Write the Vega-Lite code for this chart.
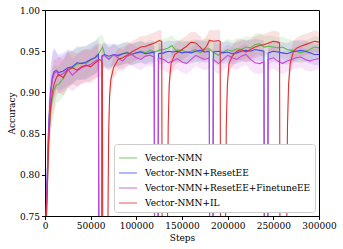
{
"$schema":"https://vega.github.io/schema/vega-lite/v6.json",
"width":274,"height":206,"autosize":"none",
"padding":{"left":45,"top":10,"right":24,"bottom":33},
"config":{"font":"DejaVu Serif","view":{"stroke":"#000","strokeWidth":1},
"axis":{"grid":false,"domainColor":"#000","tickColor":"#000","labelColor":"#000","titleColor":"#000","labelFont":"DejaVu Serif","titleFont":"DejaVu Serif","labelFontSize":9,"titleFontSize":9,"titleFontWeight":"normal","tickSize":3.5,"labelPadding":2,"labelOverlap":false,"labelFlush":false},
"legend":{"title":null,"orient":"bottom-right","offset":4,"symbolType":"stroke","symbolSize":324,"symbolStrokeWidth":1.6,"symbolOpacity":0.5,"labelFont":"DejaVu Serif","labelFontSize":9,"labelColor":"#000","labelLimit":400,"fillColor":"white","strokeColor":"#cccccc","cornerRadius":3,"padding":4,"rowPadding":-7,"labelOffset":7}},
"datasets":{"d":[
{"s":"Vector-NMN","x":0,"y":0.70,"lo":0.67,"hi":0.73},
{"s":"Vector-NMN","x":2000,"y":0.77,"lo":0.74,"hi":0.80},
{"s":"Vector-NMN","x":4000,"y":0.84,"lo":0.81,"hi":0.87},
{"s":"Vector-NMN","x":6000,"y":0.875,"lo":0.845,"hi":0.905},
{"s":"Vector-NMN","x":8000,"y":0.893,"lo":0.863,"hi":0.923},
{"s":"Vector-NMN","x":10000,"y":0.903,"lo":0.873,"hi":0.933},
{"s":"Vector-NMN","x":12500,"y":0.909,"lo":0.887,"hi":0.931},
{"s":"Vector-NMN","x":15000,"y":0.91,"lo":0.888,"hi":0.932},
{"s":"Vector-NMN","x":20000,"y":0.917,"lo":0.895,"hi":0.939},
{"s":"Vector-NMN","x":25000,"y":0.926,"lo":0.904,"hi":0.948},
{"s":"Vector-NMN","x":30000,"y":0.93,"lo":0.91,"hi":0.95},
{"s":"Vector-NMN","x":35000,"y":0.934,"lo":0.914,"hi":0.954},
{"s":"Vector-NMN","x":40000,"y":0.936,"lo":0.916,"hi":0.956},
{"s":"Vector-NMN","x":45000,"y":0.935,"lo":0.915,"hi":0.955},
{"s":"Vector-NMN","x":50000,"y":0.939,"lo":0.919,"hi":0.959},
{"s":"Vector-NMN","x":55000,"y":0.943,"lo":0.923,"hi":0.963},
{"s":"Vector-NMN","x":60000,"y":0.949,"lo":0.929,"hi":0.969},
{"s":"Vector-NMN","x":63000,"y":0.955,"lo":0.94,"hi":0.97},
{"s":"Vector-NMN","x":66000,"y":0.944,"lo":0.929,"hi":0.959},
{"s":"Vector-NMN","x":70000,"y":0.941,"lo":0.927,"hi":0.955},
{"s":"Vector-NMN","x":75000,"y":0.945,"lo":0.932,"hi":0.958},
{"s":"Vector-NMN","x":80000,"y":0.944,"lo":0.931,"hi":0.957},
{"s":"Vector-NMN","x":85000,"y":0.947,"lo":0.934,"hi":0.96},
{"s":"Vector-NMN","x":90000,"y":0.949,"lo":0.936,"hi":0.962},
{"s":"Vector-NMN","x":95000,"y":0.946,"lo":0.933,"hi":0.959},
{"s":"Vector-NMN","x":100000,"y":0.948,"lo":0.935,"hi":0.961},
{"s":"Vector-NMN","x":105000,"y":0.95,"lo":0.937,"hi":0.963},
{"s":"Vector-NMN","x":110000,"y":0.948,"lo":0.935,"hi":0.961},
{"s":"Vector-NMN","x":115000,"y":0.951,"lo":0.938,"hi":0.964},
{"s":"Vector-NMN","x":120000,"y":0.949,"lo":0.936,"hi":0.962},
{"s":"Vector-NMN","x":125000,"y":0.951,"lo":0.938,"hi":0.964},
{"s":"Vector-NMN","x":130000,"y":0.952,"lo":0.939,"hi":0.965},
{"s":"Vector-NMN","x":135000,"y":0.954,"lo":0.941,"hi":0.967},
{"s":"Vector-NMN","x":139000,"y":0.957,"lo":0.944,"hi":0.97},
{"s":"Vector-NMN","x":143000,"y":0.951,"lo":0.938,"hi":0.964},
{"s":"Vector-NMN","x":150000,"y":0.951,"lo":0.938,"hi":0.964},
{"s":"Vector-NMN","x":155000,"y":0.949,"lo":0.936,"hi":0.962},
{"s":"Vector-NMN","x":160000,"y":0.95,"lo":0.937,"hi":0.963},
{"s":"Vector-NMN","x":165000,"y":0.952,"lo":0.939,"hi":0.965},
{"s":"Vector-NMN","x":170000,"y":0.948,"lo":0.935,"hi":0.961},
{"s":"Vector-NMN","x":175000,"y":0.952,"lo":0.939,"hi":0.965},
{"s":"Vector-NMN","x":180000,"y":0.953,"lo":0.94,"hi":0.966},
{"s":"Vector-NMN","x":185000,"y":0.948,"lo":0.935,"hi":0.961},
{"s":"Vector-NMN","x":190000,"y":0.945,"lo":0.932,"hi":0.958},
{"s":"Vector-NMN","x":195000,"y":0.949,"lo":0.936,"hi":0.962},
{"s":"Vector-NMN","x":200000,"y":0.952,"lo":0.939,"hi":0.965},
{"s":"Vector-NMN","x":205000,"y":0.95,"lo":0.937,"hi":0.963},
{"s":"Vector-NMN","x":210000,"y":0.953,"lo":0.94,"hi":0.966},
{"s":"Vector-NMN","x":215000,"y":0.952,"lo":0.939,"hi":0.965},
{"s":"Vector-NMN","x":220000,"y":0.955,"lo":0.942,"hi":0.968},
{"s":"Vector-NMN","x":225000,"y":0.954,"lo":0.941,"hi":0.967},
{"s":"Vector-NMN","x":230000,"y":0.958,"lo":0.945,"hi":0.971},
{"s":"Vector-NMN","x":235000,"y":0.959,"lo":0.946,"hi":0.972},
{"s":"Vector-NMN","x":240000,"y":0.955,"lo":0.942,"hi":0.968},
{"s":"Vector-NMN","x":245000,"y":0.956,"lo":0.943,"hi":0.969},
{"s":"Vector-NMN","x":250000,"y":0.955,"lo":0.942,"hi":0.968},
{"s":"Vector-NMN","x":255000,"y":0.954,"lo":0.941,"hi":0.967},
{"s":"Vector-NMN","x":260000,"y":0.955,"lo":0.942,"hi":0.968},
{"s":"Vector-NMN","x":265000,"y":0.952,"lo":0.939,"hi":0.965},
{"s":"Vector-NMN","x":270000,"y":0.951,"lo":0.938,"hi":0.964},
{"s":"Vector-NMN","x":275000,"y":0.95,"lo":0.937,"hi":0.963},
{"s":"Vector-NMN","x":280000,"y":0.948,"lo":0.935,"hi":0.961},
{"s":"Vector-NMN","x":285000,"y":0.95,"lo":0.937,"hi":0.963},
{"s":"Vector-NMN","x":290000,"y":0.952,"lo":0.939,"hi":0.965},
{"s":"Vector-NMN","x":295000,"y":0.955,"lo":0.942,"hi":0.968},
{"s":"Vector-NMN","x":300000,"y":0.954,"lo":0.941,"hi":0.967},
{"s":"Vector-NMN+ResetEE","x":0,"y":0.70,"lo":0.67,"hi":0.73},
{"s":"Vector-NMN+ResetEE","x":2000,"y":0.78,"lo":0.75,"hi":0.81},
{"s":"Vector-NMN+ResetEE","x":4000,"y":0.86,"lo":0.83,"hi":0.89},
{"s":"Vector-NMN+ResetEE","x":6000,"y":0.90,"lo":0.87,"hi":0.93},
{"s":"Vector-NMN+ResetEE","x":8000,"y":0.918,"lo":0.888,"hi":0.948},
{"s":"Vector-NMN+ResetEE","x":10000,"y":0.925,"lo":0.895,"hi":0.955},
{"s":"Vector-NMN+ResetEE","x":12500,"y":0.927,"lo":0.905,"hi":0.949},
{"s":"Vector-NMN+ResetEE","x":15000,"y":0.924,"lo":0.902,"hi":0.946},
{"s":"Vector-NMN+ResetEE","x":20000,"y":0.926,"lo":0.904,"hi":0.948},
{"s":"Vector-NMN+ResetEE","x":25000,"y":0.93,"lo":0.908,"hi":0.952},
{"s":"Vector-NMN+ResetEE","x":30000,"y":0.931,"lo":0.911,"hi":0.951},
{"s":"Vector-NMN+ResetEE","x":35000,"y":0.936,"lo":0.916,"hi":0.956},
{"s":"Vector-NMN+ResetEE","x":40000,"y":0.935,"lo":0.915,"hi":0.955},
{"s":"Vector-NMN+ResetEE","x":45000,"y":0.937,"lo":0.917,"hi":0.957},
{"s":"Vector-NMN+ResetEE","x":50000,"y":0.94,"lo":0.92,"hi":0.96},
{"s":"Vector-NMN+ResetEE","x":55000,"y":0.942,"lo":0.922,"hi":0.962},
{"s":"Vector-NMN+ResetEE","x":58500,"y":0.946,"lo":0.926,"hi":0.966},
{"s":"Vector-NMN+ResetEE","x":59300,"y":0.6,"lo":0.58,"hi":0.62},
{"s":"Vector-NMN+ResetEE","x":61800,"y":0.6,"lo":0.58,"hi":0.62},
{"s":"Vector-NMN+ResetEE","x":62300,"y":0.944,"lo":0.929,"hi":0.959},
{"s":"Vector-NMN+ResetEE","x":65000,"y":0.946,"lo":0.931,"hi":0.961},
{"s":"Vector-NMN+ResetEE","x":70000,"y":0.944,"lo":0.93,"hi":0.958},
{"s":"Vector-NMN+ResetEE","x":75000,"y":0.946,"lo":0.933,"hi":0.959},
{"s":"Vector-NMN+ResetEE","x":80000,"y":0.945,"lo":0.932,"hi":0.958},
{"s":"Vector-NMN+ResetEE","x":85000,"y":0.947,"lo":0.934,"hi":0.96},
{"s":"Vector-NMN+ResetEE","x":90000,"y":0.948,"lo":0.935,"hi":0.961},
{"s":"Vector-NMN+ResetEE","x":95000,"y":0.946,"lo":0.933,"hi":0.959},
{"s":"Vector-NMN+ResetEE","x":100000,"y":0.948,"lo":0.935,"hi":0.961},
{"s":"Vector-NMN+ResetEE","x":105000,"y":0.949,"lo":0.936,"hi":0.962},
{"s":"Vector-NMN+ResetEE","x":110000,"y":0.947,"lo":0.934,"hi":0.96},
{"s":"Vector-NMN+ResetEE","x":115000,"y":0.948,"lo":0.935,"hi":0.961},
{"s":"Vector-NMN+ResetEE","x":119500,"y":0.949,"lo":0.936,"hi":0.962},
{"s":"Vector-NMN+ResetEE","x":120300,"y":0.6,"lo":0.58,"hi":0.62},
{"s":"Vector-NMN+ResetEE","x":123700,"y":0.6,"lo":0.58,"hi":0.62},
{"s":"Vector-NMN+ResetEE","x":124200,"y":0.947,"lo":0.934,"hi":0.96},
{"s":"Vector-NMN+ResetEE","x":130000,"y":0.948,"lo":0.935,"hi":0.961},
{"s":"Vector-NMN+ResetEE","x":135000,"y":0.95,"lo":0.937,"hi":0.963},
{"s":"Vector-NMN+ResetEE","x":140000,"y":0.949,"lo":0.936,"hi":0.962},
{"s":"Vector-NMN+ResetEE","x":145000,"y":0.95,"lo":0.937,"hi":0.963},
{"s":"Vector-NMN+ResetEE","x":150000,"y":0.948,"lo":0.935,"hi":0.961},
{"s":"Vector-NMN+ResetEE","x":155000,"y":0.949,"lo":0.936,"hi":0.962},
{"s":"Vector-NMN+ResetEE","x":160000,"y":0.948,"lo":0.935,"hi":0.961},
{"s":"Vector-NMN+ResetEE","x":165000,"y":0.95,"lo":0.937,"hi":0.963},
{"s":"Vector-NMN+ResetEE","x":170000,"y":0.951,"lo":0.938,"hi":0.964},
{"s":"Vector-NMN+ResetEE","x":175000,"y":0.949,"lo":0.936,"hi":0.962},
{"s":"Vector-NMN+ResetEE","x":179800,"y":0.95,"lo":0.937,"hi":0.963},
{"s":"Vector-NMN+ResetEE","x":180600,"y":0.6,"lo":0.58,"hi":0.62},
{"s":"Vector-NMN+ResetEE","x":183800,"y":0.6,"lo":0.58,"hi":0.62},
{"s":"Vector-NMN+ResetEE","x":184300,"y":0.949,"lo":0.936,"hi":0.962},
{"s":"Vector-NMN+ResetEE","x":190000,"y":0.95,"lo":0.937,"hi":0.963},
{"s":"Vector-NMN+ResetEE","x":195000,"y":0.948,"lo":0.935,"hi":0.961},
{"s":"Vector-NMN+ResetEE","x":200000,"y":0.949,"lo":0.936,"hi":0.962},
{"s":"Vector-NMN+ResetEE","x":205000,"y":0.947,"lo":0.934,"hi":0.96},
{"s":"Vector-NMN+ResetEE","x":210000,"y":0.948,"lo":0.935,"hi":0.961},
{"s":"Vector-NMN+ResetEE","x":215000,"y":0.95,"lo":0.937,"hi":0.963},
{"s":"Vector-NMN+ResetEE","x":220000,"y":0.951,"lo":0.938,"hi":0.964},
{"s":"Vector-NMN+ResetEE","x":225000,"y":0.95,"lo":0.937,"hi":0.963},
{"s":"Vector-NMN+ResetEE","x":230000,"y":0.952,"lo":0.939,"hi":0.965},
{"s":"Vector-NMN+ResetEE","x":235000,"y":0.951,"lo":0.938,"hi":0.964},
{"s":"Vector-NMN+ResetEE","x":239700,"y":0.95,"lo":0.937,"hi":0.963},
{"s":"Vector-NMN+ResetEE","x":240500,"y":0.6,"lo":0.58,"hi":0.62},
{"s":"Vector-NMN+ResetEE","x":243800,"y":0.6,"lo":0.58,"hi":0.62},
{"s":"Vector-NMN+ResetEE","x":244300,"y":0.948,"lo":0.935,"hi":0.961},
{"s":"Vector-NMN+ResetEE","x":250000,"y":0.95,"lo":0.937,"hi":0.963},
{"s":"Vector-NMN+ResetEE","x":255000,"y":0.949,"lo":0.936,"hi":0.962},
{"s":"Vector-NMN+ResetEE","x":260000,"y":0.948,"lo":0.935,"hi":0.961},
{"s":"Vector-NMN+ResetEE","x":265000,"y":0.947,"lo":0.934,"hi":0.96},
{"s":"Vector-NMN+ResetEE","x":270000,"y":0.949,"lo":0.936,"hi":0.962},
{"s":"Vector-NMN+ResetEE","x":275000,"y":0.95,"lo":0.937,"hi":0.963},
{"s":"Vector-NMN+ResetEE","x":280000,"y":0.951,"lo":0.938,"hi":0.964},
{"s":"Vector-NMN+ResetEE","x":285000,"y":0.95,"lo":0.937,"hi":0.963},
{"s":"Vector-NMN+ResetEE","x":290000,"y":0.948,"lo":0.935,"hi":0.961},
{"s":"Vector-NMN+ResetEE","x":295000,"y":0.946,"lo":0.933,"hi":0.959},
{"s":"Vector-NMN+ResetEE","x":300000,"y":0.946,"lo":0.933,"hi":0.959},
{"s":"Vector-NMN+ResetEE+FinetuneEE","x":0,"y":0.70,"lo":0.67,"hi":0.73},
{"s":"Vector-NMN+ResetEE+FinetuneEE","x":2000,"y":0.78,"lo":0.75,"hi":0.81},
{"s":"Vector-NMN+ResetEE+FinetuneEE","x":4000,"y":0.855,"lo":0.825,"hi":0.885},
{"s":"Vector-NMN+ResetEE+FinetuneEE","x":6000,"y":0.895,"lo":0.865,"hi":0.925},
{"s":"Vector-NMN+ResetEE+FinetuneEE","x":8000,"y":0.915,"lo":0.885,"hi":0.945},
{"s":"Vector-NMN+ResetEE+FinetuneEE","x":10000,"y":0.922,"lo":0.892,"hi":0.952},
{"s":"Vector-NMN+ResetEE+FinetuneEE","x":12500,"y":0.926,"lo":0.904,"hi":0.948},
{"s":"Vector-NMN+ResetEE+FinetuneEE","x":15000,"y":0.92,"lo":0.898,"hi":0.942},
{"s":"Vector-NMN+ResetEE+FinetuneEE","x":20000,"y":0.923,"lo":0.901,"hi":0.945},
{"s":"Vector-NMN+ResetEE+FinetuneEE","x":25000,"y":0.928,"lo":0.906,"hi":0.95},
{"s":"Vector-NMN+ResetEE+FinetuneEE","x":30000,"y":0.921,"lo":0.901,"hi":0.941},
{"s":"Vector-NMN+ResetEE+FinetuneEE","x":35000,"y":0.926,"lo":0.906,"hi":0.946},
{"s":"Vector-NMN+ResetEE+FinetuneEE","x":40000,"y":0.93,"lo":0.91,"hi":0.95},
{"s":"Vector-NMN+ResetEE+FinetuneEE","x":45000,"y":0.932,"lo":0.912,"hi":0.952},
{"s":"Vector-NMN+ResetEE+FinetuneEE","x":50000,"y":0.934,"lo":0.914,"hi":0.954},
{"s":"Vector-NMN+ResetEE+FinetuneEE","x":55000,"y":0.938,"lo":0.918,"hi":0.958},
{"s":"Vector-NMN+ResetEE+FinetuneEE","x":58500,"y":0.94,"lo":0.92,"hi":0.96},
{"s":"Vector-NMN+ResetEE+FinetuneEE","x":59200,"y":0.6,"lo":0.58,"hi":0.62},
{"s":"Vector-NMN+ResetEE+FinetuneEE","x":61700,"y":0.6,"lo":0.58,"hi":0.62},
{"s":"Vector-NMN+ResetEE+FinetuneEE","x":62200,"y":0.943,"lo":0.928,"hi":0.958},
{"s":"Vector-NMN+ResetEE+FinetuneEE","x":65000,"y":0.945,"lo":0.93,"hi":0.96},
{"s":"Vector-NMN+ResetEE+FinetuneEE","x":70000,"y":0.94,"lo":0.926,"hi":0.954},
{"s":"Vector-NMN+ResetEE+FinetuneEE","x":75000,"y":0.946,"lo":0.933,"hi":0.959},
{"s":"Vector-NMN+ResetEE+FinetuneEE","x":80000,"y":0.942,"lo":0.929,"hi":0.955},
{"s":"Vector-NMN+ResetEE+FinetuneEE","x":85000,"y":0.938,"lo":0.925,"hi":0.951},
{"s":"Vector-NMN+ResetEE+FinetuneEE","x":90000,"y":0.944,"lo":0.931,"hi":0.957},
{"s":"Vector-NMN+ResetEE+FinetuneEE","x":95000,"y":0.946,"lo":0.933,"hi":0.959},
{"s":"Vector-NMN+ResetEE+FinetuneEE","x":100000,"y":0.942,"lo":0.929,"hi":0.955},
{"s":"Vector-NMN+ResetEE+FinetuneEE","x":105000,"y":0.94,"lo":0.927,"hi":0.953},
{"s":"Vector-NMN+ResetEE+FinetuneEE","x":110000,"y":0.944,"lo":0.931,"hi":0.957},
{"s":"Vector-NMN+ResetEE+FinetuneEE","x":115000,"y":0.945,"lo":0.932,"hi":0.958},
{"s":"Vector-NMN+ResetEE+FinetuneEE","x":119500,"y":0.943,"lo":0.93,"hi":0.956},
{"s":"Vector-NMN+ResetEE+FinetuneEE","x":120200,"y":0.6,"lo":0.58,"hi":0.62},
{"s":"Vector-NMN+ResetEE+FinetuneEE","x":123600,"y":0.6,"lo":0.58,"hi":0.62},
{"s":"Vector-NMN+ResetEE+FinetuneEE","x":124100,"y":0.942,"lo":0.929,"hi":0.955},
{"s":"Vector-NMN+ResetEE+FinetuneEE","x":130000,"y":0.94,"lo":0.927,"hi":0.953},
{"s":"Vector-NMN+ResetEE+FinetuneEE","x":135000,"y":0.936,"lo":0.923,"hi":0.949},
{"s":"Vector-NMN+ResetEE+FinetuneEE","x":140000,"y":0.938,"lo":0.925,"hi":0.951},
{"s":"Vector-NMN+ResetEE+FinetuneEE","x":145000,"y":0.941,"lo":0.928,"hi":0.954},
{"s":"Vector-NMN+ResetEE+FinetuneEE","x":150000,"y":0.937,"lo":0.924,"hi":0.95},
{"s":"Vector-NMN+ResetEE+FinetuneEE","x":155000,"y":0.935,"lo":0.922,"hi":0.948},
{"s":"Vector-NMN+ResetEE+FinetuneEE","x":160000,"y":0.94,"lo":0.927,"hi":0.953},
{"s":"Vector-NMN+ResetEE+FinetuneEE","x":165000,"y":0.945,"lo":0.932,"hi":0.958},
{"s":"Vector-NMN+ResetEE+FinetuneEE","x":170000,"y":0.942,"lo":0.929,"hi":0.955},
{"s":"Vector-NMN+ResetEE+FinetuneEE","x":175000,"y":0.94,"lo":0.927,"hi":0.953},
{"s":"Vector-NMN+ResetEE+FinetuneEE","x":179800,"y":0.942,"lo":0.929,"hi":0.955},
{"s":"Vector-NMN+ResetEE+FinetuneEE","x":180500,"y":0.6,"lo":0.58,"hi":0.62},
{"s":"Vector-NMN+ResetEE+FinetuneEE","x":183700,"y":0.6,"lo":0.58,"hi":0.62},
{"s":"Vector-NMN+ResetEE+FinetuneEE","x":184200,"y":0.94,"lo":0.927,"hi":0.953},
{"s":"Vector-NMN+ResetEE+FinetuneEE","x":190000,"y":0.935,"lo":0.922,"hi":0.948},
{"s":"Vector-NMN+ResetEE+FinetuneEE","x":195000,"y":0.94,"lo":0.927,"hi":0.953},
{"s":"Vector-NMN+ResetEE+FinetuneEE","x":200000,"y":0.945,"lo":0.932,"hi":0.958},
{"s":"Vector-NMN+ResetEE+FinetuneEE","x":205000,"y":0.942,"lo":0.929,"hi":0.955},
{"s":"Vector-NMN+ResetEE+FinetuneEE","x":210000,"y":0.94,"lo":0.927,"hi":0.953},
{"s":"Vector-NMN+ResetEE+FinetuneEE","x":215000,"y":0.944,"lo":0.931,"hi":0.957},
{"s":"Vector-NMN+ResetEE+FinetuneEE","x":220000,"y":0.946,"lo":0.933,"hi":0.959},
{"s":"Vector-NMN+ResetEE+FinetuneEE","x":225000,"y":0.94,"lo":0.927,"hi":0.953},
{"s":"Vector-NMN+ResetEE+FinetuneEE","x":230000,"y":0.936,"lo":0.923,"hi":0.949},
{"s":"Vector-NMN+ResetEE+FinetuneEE","x":235000,"y":0.935,"lo":0.922,"hi":0.948},
{"s":"Vector-NMN+ResetEE+FinetuneEE","x":239700,"y":0.937,"lo":0.924,"hi":0.95},
{"s":"Vector-NMN+ResetEE+FinetuneEE","x":240400,"y":0.6,"lo":0.58,"hi":0.62},
{"s":"Vector-NMN+ResetEE+FinetuneEE","x":243700,"y":0.6,"lo":0.58,"hi":0.62},
{"s":"Vector-NMN+ResetEE+FinetuneEE","x":244200,"y":0.94,"lo":0.927,"hi":0.953},
{"s":"Vector-NMN+ResetEE+FinetuneEE","x":250000,"y":0.942,"lo":0.929,"hi":0.955},
{"s":"Vector-NMN+ResetEE+FinetuneEE","x":255000,"y":0.938,"lo":0.925,"hi":0.951},
{"s":"Vector-NMN+ResetEE+FinetuneEE","x":260000,"y":0.935,"lo":0.922,"hi":0.948},
{"s":"Vector-NMN+ResetEE+FinetuneEE","x":265000,"y":0.938,"lo":0.925,"hi":0.951},
{"s":"Vector-NMN+ResetEE+FinetuneEE","x":270000,"y":0.94,"lo":0.927,"hi":0.953},
{"s":"Vector-NMN+ResetEE+FinetuneEE","x":275000,"y":0.942,"lo":0.929,"hi":0.955},
{"s":"Vector-NMN+ResetEE+FinetuneEE","x":280000,"y":0.943,"lo":0.93,"hi":0.956},
{"s":"Vector-NMN+ResetEE+FinetuneEE","x":285000,"y":0.94,"lo":0.927,"hi":0.953},
{"s":"Vector-NMN+ResetEE+FinetuneEE","x":290000,"y":0.938,"lo":0.925,"hi":0.951},
{"s":"Vector-NMN+ResetEE+FinetuneEE","x":295000,"y":0.94,"lo":0.927,"hi":0.953},
{"s":"Vector-NMN+ResetEE+FinetuneEE","x":300000,"y":0.941,"lo":0.928,"hi":0.954},
{"s":"Vector-NMN+IL","x":0,"y":0.70,"lo":0.67,"hi":0.73},
{"s":"Vector-NMN+IL","x":2000,"y":0.76,"lo":0.73,"hi":0.79},
{"s":"Vector-NMN+IL","x":4000,"y":0.84,"lo":0.81,"hi":0.87},
{"s":"Vector-NMN+IL","x":6000,"y":0.88,"lo":0.85,"hi":0.91},
{"s":"Vector-NMN+IL","x":8000,"y":0.90,"lo":0.87,"hi":0.93},
{"s":"Vector-NMN+IL","x":10000,"y":0.91,"lo":0.88,"hi":0.94},
{"s":"Vector-NMN+IL","x":12500,"y":0.918,"lo":0.896,"hi":0.94},
{"s":"Vector-NMN+IL","x":15000,"y":0.922,"lo":0.90,"hi":0.944},
{"s":"Vector-NMN+IL","x":20000,"y":0.918,"lo":0.896,"hi":0.94},
{"s":"Vector-NMN+IL","x":25000,"y":0.928,"lo":0.906,"hi":0.95},
{"s":"Vector-NMN+IL","x":30000,"y":0.93,"lo":0.91,"hi":0.95},
{"s":"Vector-NMN+IL","x":35000,"y":0.927,"lo":0.907,"hi":0.947},
{"s":"Vector-NMN+IL","x":40000,"y":0.931,"lo":0.911,"hi":0.951},
{"s":"Vector-NMN+IL","x":45000,"y":0.933,"lo":0.913,"hi":0.953},
{"s":"Vector-NMN+IL","x":50000,"y":0.931,"lo":0.911,"hi":0.951},
{"s":"Vector-NMN+IL","x":55000,"y":0.936,"lo":0.916,"hi":0.956},
{"s":"Vector-NMN+IL","x":60000,"y":0.94,"lo":0.92,"hi":0.96},
{"s":"Vector-NMN+IL","x":62800,"y":0.937,"lo":0.917,"hi":0.957},
{"s":"Vector-NMN+IL","x":63500,"y":0.6,"lo":0.58,"hi":0.62},
{"s":"Vector-NMN+IL","x":68500,"y":0.6,"lo":0.58,"hi":0.62},
{"s":"Vector-NMN+IL","x":69000,"y":0.76,"lo":0.74,"hi":0.78},
{"s":"Vector-NMN+IL","x":69700,"y":0.85,"lo":0.83,"hi":0.87},
{"s":"Vector-NMN+IL","x":70700,"y":0.895,"lo":0.878,"hi":0.912},
{"s":"Vector-NMN+IL","x":72000,"y":0.915,"lo":0.9,"hi":0.93},
{"s":"Vector-NMN+IL","x":75000,"y":0.93,"lo":0.916,"hi":0.944},
{"s":"Vector-NMN+IL","x":80000,"y":0.94,"lo":0.927,"hi":0.953},
{"s":"Vector-NMN+IL","x":85000,"y":0.942,"lo":0.929,"hi":0.955},
{"s":"Vector-NMN+IL","x":90000,"y":0.945,"lo":0.932,"hi":0.958},
{"s":"Vector-NMN+IL","x":95000,"y":0.949,"lo":0.936,"hi":0.962},
{"s":"Vector-NMN+IL","x":100000,"y":0.952,"lo":0.939,"hi":0.965},
{"s":"Vector-NMN+IL","x":105000,"y":0.955,"lo":0.942,"hi":0.968},
{"s":"Vector-NMN+IL","x":110000,"y":0.956,"lo":0.943,"hi":0.969},
{"s":"Vector-NMN+IL","x":115000,"y":0.958,"lo":0.945,"hi":0.971},
{"s":"Vector-NMN+IL","x":120000,"y":0.96,"lo":0.947,"hi":0.973},
{"s":"Vector-NMN+IL","x":125000,"y":0.963,"lo":0.95,"hi":0.976},
{"s":"Vector-NMN+IL","x":127800,"y":0.962,"lo":0.949,"hi":0.975},
{"s":"Vector-NMN+IL","x":128500,"y":0.6,"lo":0.58,"hi":0.62},
{"s":"Vector-NMN+IL","x":133700,"y":0.6,"lo":0.58,"hi":0.62},
{"s":"Vector-NMN+IL","x":134200,"y":0.76,"lo":0.74,"hi":0.78},
{"s":"Vector-NMN+IL","x":134900,"y":0.86,"lo":0.84,"hi":0.88},
{"s":"Vector-NMN+IL","x":136000,"y":0.91,"lo":0.895,"hi":0.925},
{"s":"Vector-NMN+IL","x":138000,"y":0.935,"lo":0.922,"hi":0.948},
{"s":"Vector-NMN+IL","x":142000,"y":0.946,"lo":0.933,"hi":0.959},
{"s":"Vector-NMN+IL","x":146000,"y":0.949,"lo":0.936,"hi":0.962},
{"s":"Vector-NMN+IL","x":150000,"y":0.952,"lo":0.939,"hi":0.965},
{"s":"Vector-NMN+IL","x":155000,"y":0.956,"lo":0.943,"hi":0.969},
{"s":"Vector-NMN+IL","x":160000,"y":0.961,"lo":0.948,"hi":0.974},
{"s":"Vector-NMN+IL","x":165000,"y":0.96,"lo":0.947,"hi":0.973},
{"s":"Vector-NMN+IL","x":170000,"y":0.955,"lo":0.942,"hi":0.968},
{"s":"Vector-NMN+IL","x":173000,"y":0.951,"lo":0.938,"hi":0.964},
{"s":"Vector-NMN+IL","x":177000,"y":0.956,"lo":0.943,"hi":0.969},
{"s":"Vector-NMN+IL","x":180000,"y":0.963,"lo":0.95,"hi":0.976},
{"s":"Vector-NMN+IL","x":185000,"y":0.962,"lo":0.949,"hi":0.975},
{"s":"Vector-NMN+IL","x":190000,"y":0.963,"lo":0.95,"hi":0.976},
{"s":"Vector-NMN+IL","x":191800,"y":0.962,"lo":0.949,"hi":0.975},
{"s":"Vector-NMN+IL","x":192400,"y":0.6,"lo":0.58,"hi":0.62},
{"s":"Vector-NMN+IL","x":197300,"y":0.6,"lo":0.58,"hi":0.62},
{"s":"Vector-NMN+IL","x":197800,"y":0.76,"lo":0.74,"hi":0.78},
{"s":"Vector-NMN+IL","x":198500,"y":0.86,"lo":0.84,"hi":0.88},
{"s":"Vector-NMN+IL","x":199700,"y":0.91,"lo":0.895,"hi":0.925},
{"s":"Vector-NMN+IL","x":201500,"y":0.935,"lo":0.922,"hi":0.948},
{"s":"Vector-NMN+IL","x":205000,"y":0.944,"lo":0.931,"hi":0.957},
{"s":"Vector-NMN+IL","x":210000,"y":0.95,"lo":0.937,"hi":0.963},
{"s":"Vector-NMN+IL","x":215000,"y":0.952,"lo":0.939,"hi":0.965},
{"s":"Vector-NMN+IL","x":220000,"y":0.949,"lo":0.936,"hi":0.962},
{"s":"Vector-NMN+IL","x":225000,"y":0.952,"lo":0.939,"hi":0.965},
{"s":"Vector-NMN+IL","x":230000,"y":0.955,"lo":0.942,"hi":0.968},
{"s":"Vector-NMN+IL","x":235000,"y":0.957,"lo":0.944,"hi":0.97},
{"s":"Vector-NMN+IL","x":240000,"y":0.958,"lo":0.945,"hi":0.971},
{"s":"Vector-NMN+IL","x":245000,"y":0.96,"lo":0.947,"hi":0.973},
{"s":"Vector-NMN+IL","x":250000,"y":0.962,"lo":0.949,"hi":0.975},
{"s":"Vector-NMN+IL","x":255000,"y":0.961,"lo":0.948,"hi":0.974},
{"s":"Vector-NMN+IL","x":256800,"y":0.96,"lo":0.947,"hi":0.973},
{"s":"Vector-NMN+IL","x":257500,"y":0.6,"lo":0.58,"hi":0.62},
{"s":"Vector-NMN+IL","x":264300,"y":0.6,"lo":0.58,"hi":0.62},
{"s":"Vector-NMN+IL","x":264800,"y":0.76,"lo":0.74,"hi":0.78},
{"s":"Vector-NMN+IL","x":265500,"y":0.86,"lo":0.84,"hi":0.88},
{"s":"Vector-NMN+IL","x":266700,"y":0.91,"lo":0.895,"hi":0.925},
{"s":"Vector-NMN+IL","x":268500,"y":0.935,"lo":0.922,"hi":0.948},
{"s":"Vector-NMN+IL","x":272000,"y":0.95,"lo":0.937,"hi":0.963},
{"s":"Vector-NMN+IL","x":276000,"y":0.954,"lo":0.941,"hi":0.967},
{"s":"Vector-NMN+IL","x":280000,"y":0.956,"lo":0.943,"hi":0.969},
{"s":"Vector-NMN+IL","x":285000,"y":0.958,"lo":0.945,"hi":0.971},
{"s":"Vector-NMN+IL","x":290000,"y":0.96,"lo":0.947,"hi":0.973},
{"s":"Vector-NMN+IL","x":295000,"y":0.962,"lo":0.949,"hi":0.975},
{"s":"Vector-NMN+IL","x":300000,"y":0.961,"lo":0.948,"hi":0.974}
]},
"data":{"name":"d"},
"encoding":{
"x":{"field":"x","type":"quantitative","scale":{"domain":[0,300000],"nice":false,"zero":false},"axis":{"title":"Steps","values":[0,50000,100000,150000,200000,250000,300000],"format":"d","titlePadding":3}},
"color":{"field":"s","type":"nominal","scale":{"domain":["Vector-NMN","Vector-NMN+ResetEE","Vector-NMN+ResetEE+FinetuneEE","Vector-NMN+IL"],"range":["#5cb84a","#4646f0","#cc44d8","#e03030"]}}
},
"layer":[
{"mark":{"type":"area","opacity":0.14,"clip":true},
"encoding":{
"y":{"field":"lo","type":"quantitative","scale":{"domain":[0.75,1.0],"nice":false,"zero":false},"axis":{"title":"Accuracy","values":[0.75,0.8,0.85,0.9,0.95,1.0],"format":".2f","titlePadding":3}},
"y2":{"field":"hi"}
}},
{"mark":{"type":"line","strokeWidth":1.1,"clip":true},
"encoding":{
"y":{"field":"y","type":"quantitative"}
}}
]
}
